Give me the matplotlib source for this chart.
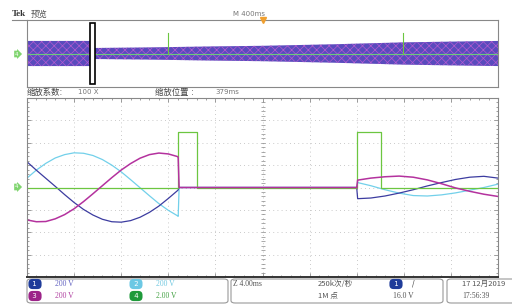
import numpy as np
import matplotlib.pyplot as plt
from matplotlib.patches import FancyBboxPatch, Rectangle

plt.rcParams['font.family'] = ['DejaVu Sans', 'Noto Sans CJK SC']
plt.rcParams['hatch.linewidth'] = 0.5

# ---- main (zoomed) window, x in divisions (0..10), y in divisions (-4..4)
t1 = [0, 0.2, 0.4, 0.6, 0.8, 1.0, 1.2, 1.4, 1.6, 1.8, 2.0, 2.2, 2.4, 2.6, 2.8, 3.0, 3.2, 3.21, 3.23, 7.0]
cyan1 = [0.42, 0.78, 1.08, 1.32, 1.47, 1.55, 1.53, 1.43, 1.25, 1.0, 0.7, 0.35, -0.01, -0.37, -0.72, -1.02, -1.27, -1.29, 0, 0]
blue1 = [1.15, 0.77, 0.41, 0.05, -0.32, -0.67, -0.98, -1.23, -1.42, -1.53, -1.55, -1.48, -1.33, -1.11, -0.83, -0.49, -0.13, -0.1, 0, 0]
mag1 = [-1.45, -1.53, -1.52, -1.4, -1.21, -0.95, -0.63, -0.28, 0.08, 0.44, 0.78, 1.07, 1.31, 1.47, 1.54, 1.5, 1.38, 1.33, 0, 0]

t2 = [7.0, 7.02, 7.3, 7.6, 7.9, 8.2, 8.5, 8.8, 9.1, 9.4, 9.7, 10.0]
cyan2 = [0, 0.22, 0.08, -0.1, -0.25, -0.36, -0.38, -0.33, -0.24, -0.12, 0.0, 0.15]
blue2 = [0, -0.5, -0.47, -0.38, -0.25, -0.1, 0.07, 0.22, 0.36, 0.46, 0.5, 0.42]
mag2 = [0, 0.33, 0.42, 0.48, 0.51, 0.46, 0.34, 0.17, -0.02, -0.17, -0.3, -0.4]

green_t = [0, 3.21, 3.21, 3.6, 3.6, 7.0, 7.0, 7.51, 7.51, 10]
green_v = [0, 0, 2.46, 2.46, 0, 0, 2.5, 2.5, 0, 0]

# ---- overview window: band half-width (divisions) and trigger spikes
ov_x = [0, 1.34, 1.44, 2.5, 4.0, 5.0, 6.5, 8.0, 9.0, 10]
ov_half = [1.5, 1.5, 0.66, 0.72, 0.85, 0.92, 1.1, 1.33, 1.42, 1.5]
spike_x = [2.99, 7.98]
spike_h = 2.5

c_blue = '#3c3ca0'
c_cyan = '#72d0ea'
c_mag = '#b4329e'
c_green = '#6cc640'

fig = plt.figure(figsize=(5.12, 3.05), dpi=100)
W, H = 512.0, 305.0

def fx(px):
    return px / W

def fy(py):
    return 1 - py / H

# overview axes
ov = fig.add_axes([fx(27), fy(87), 471 / W, 67 / H])
ov.set_xlim(0, 10)
ov.set_ylim(-4, 4)
lo = [-h for h in ov_half]
ov.fill_between(ov_x, lo, ov_half, facecolor='#5a4bbd', edgecolor='#b25ad0', hatch='xxxx', linewidth=0)
ov.plot([0, 10], [0, 0], color=c_cyan, lw=0.8)
for sx in spike_x:
    ov.plot([sx, sx], [0, spike_h], color=c_green, lw=0.8)
ov.plot([0, 10], [0, 0], color=c_green, lw=0.6, alpha=0.8)
ov.add_patch(Rectangle((1.34, -3.7), 0.1, 7.4, facecolor='white', edgecolor='black', lw=1.2, zorder=5))
ov.plot([5], [4], marker='v', color='#f0a030', ms=4, clip_on=False, zorder=6)
ov.set_xticks([])
ov.set_yticks([])
for s in ov.spines.values():
    s.set_color('#888888')
    s.set_linewidth(0.8)

# main axes
ax = fig.add_axes([fx(27), fy(277), 471 / W, 179 / H])
ax.set_xlim(0, 10)
ax.set_ylim(-4, 4)
ax.set_xticks(np.arange(0, 11))
ax.set_yticks(np.arange(-4, 5))
ax.set_xticks(np.arange(0, 10.01, 0.2), minor=True)
ax.set_yticks(np.arange(-4, 4.01, 0.2), minor=True)
ax.tick_params(which='both', direction='in', top=True, right=True,
               labelbottom=False, labelleft=False, color='#777777', width=0.5)
ax.tick_params(which='major', length=3)
ax.tick_params(which='minor', length=1.5)
ax.grid(True, which='major', linestyle=(0, (1, 4)), color='#b8b8b8', linewidth=0.6)
ax.plot([5] * 41, np.arange(-4, 4.01, 0.2), ls='none', marker='_', ms=3, mew=0.5, color='#888888')
for s in ax.spines.values():
    s.set_color('#888888')
    s.set_linewidth(0.8)
ax.spines['bottom'].set_color('#333333')
ax.spines['bottom'].set_linewidth(1.4)

ax.plot(t1, cyan1, color=c_cyan, lw=0.9)
ax.plot(t2, cyan2, color=c_cyan, lw=0.9)
ax.plot(t1, blue1, color=c_blue, lw=0.9)
ax.plot(t2, blue2, color=c_blue, lw=0.9)
ax.plot(green_t, green_v, color=c_green, lw=0.9)
ax.plot(t1, mag1, color=c_mag, lw=1.1)
ax.plot(t2, mag2, color=c_mag, lw=1.1)

# header and level markers
fig.add_artist(plt.Line2D([fx(12), fx(27)], [fy(20), fy(20)], color='#888888', lw=0.8))
fig.text(fx(12), fy(14), 'Tek', fontsize=6.5, fontweight='bold', color='#333333',
         family='Liberation Serif', va='center')
fig.text(fx(31), fy(14), '预览', fontsize=6, color='#555555', va='center')
fig.text(fx(233), fy(14), 'M 400ms', fontsize=5, color='#777777', va='center')
fig.text(fx(27), fy(92), '缩放系数:', fontsize=6, color='#444444', va='center')
fig.text(fx(78), fy(92), '100 X', fontsize=5, color='#777777', va='center')
fig.text(fx(155), fy(92), '缩放位置 :', fontsize=6, color='#444444', va='center')
fig.text(fx(215), fy(92), '379ms', fontsize=5, color='#777777', va='center')
for py in (54, 187):
    fig.text(fx(15), fy(py), '4', fontsize=4, color='white', va='center', ha='left',
             bbox=dict(boxstyle='rarrow,pad=0.15', fc='#7fd46e', ec='none'))

# bottom info bar
for x0, x1 in ((27, 228), (231, 443), (447, 520)):
    fig.add_artist(FancyBboxPatch((fx(x0), fy(303)), fx(x1) - fx(x0), fy(279) - fy(303),
                                  boxstyle='round,pad=0,rounding_size=0.008',
                                  transform=fig.transFigure, fc='white', ec='#999999', lw=0.8))

badge = dict(boxstyle='round,pad=0.3,rounding_size=0.6', ec='none')
chans = [('1', 35, 284, '#1f3c9a', '200 V', 55, '#6060c0'),
         ('3', 35, 296, '#9c2388', '200 V', 55, '#b040a0'),
         ('2', 136, 284, '#6cc8e4', '200 V', 156, '#70c8e0'),
         ('4', 136, 296, '#1e9a3a', '2.00 V', 156, '#40a040')]
for num, ox, oy, oc, lab, lx, lc in chans:
    fig.text(fx(ox), fy(oy), ' ' + num + ' ', fontsize=5, color='white', ha='center', va='center',
             bbox=dict(badge, fc=oc))
    fig.text(fx(lx), fy(oy), lab, fontsize=5.5, color=lc, va='center', family='Liberation Serif')

fig.text(fx(233), fy(284), 'Z 4.00ms', fontsize=5.5, color='#555555', va='center', family='Liberation Serif')
fig.text(fx(318), fy(284), '250k次/秒', fontsize=5.5, color='#555555', va='center',
         family='Noto Sans CJK SC')
fig.text(fx(318), fy(296), '1M 点', fontsize=5.5, color='#555555', va='center',
         family='Noto Sans CJK SC')
fig.text(fx(396), fy(284), ' 1 ', fontsize=5, color='white', ha='center', va='center',
         bbox=dict(badge, fc='#1f3c9a'))
fig.text(fx(412), fy(284), '/', fontsize=5.5, color='#555555', va='center')
fig.text(fx(393), fy(296), '16.0 V', fontsize=5.5, color='#555555', va='center', family='Liberation Serif')
fig.text(fx(462), fy(284), '17 12月2019', fontsize=5.5, color='#555555', va='center',
         family='Noto Sans CJK SC')
fig.text(fx(462), fy(296), '17:56:39', fontsize=5.5, color='#555555', va='center', family='Liberation Serif')

fig.savefig('out.png', dpi=100)
